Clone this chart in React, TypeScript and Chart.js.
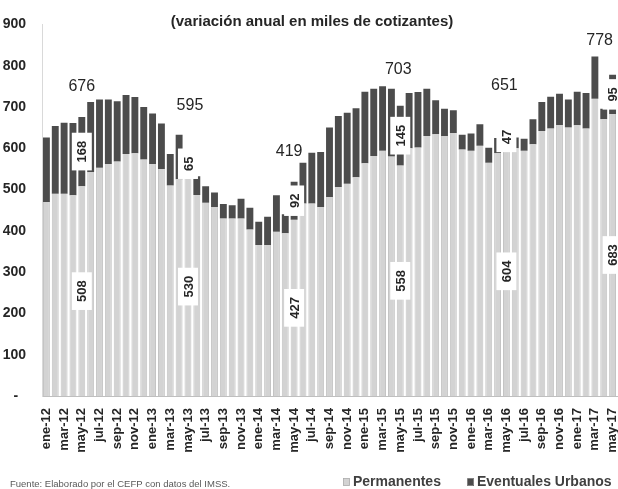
import React, { useEffect, useRef } from 'react';
import { Chart, registerables } from 'chart.js';

Chart.register(...registerables);

const categories: string[] = [
  'ene-12','feb-12','mar-12','abr-12','may-12','jun-12','jul-12','ago-12','sep-12','oct-12','nov-12','dic-12',
  'ene-13','feb-13','mar-13','abr-13','may-13','jun-13','jul-13','ago-13','sep-13','oct-13','nov-13','dic-13',
  'ene-14','feb-14','mar-14','abr-14','may-14','jun-14','jul-14','ago-14','sep-14','oct-14','nov-14','dic-14',
  'ene-15','feb-15','mar-15','abr-15','may-15','jun-15','jul-15','ago-15','sep-15','oct-15','nov-15','dic-15',
  'ene-16','feb-16','mar-16','abr-16','may-16','jun-16','jul-16','ago-16','sep-16','oct-16','nov-16','dic-16',
  'ene-17','feb-17','mar-17','abr-17','may-17',
];

const permanentes: number[] = [
  470, 490, 490, 486, 508, 542, 553, 562, 568, 586, 588, 573,
  562, 550, 510, 525, 530, 487, 468, 457, 430, 430, 430, 403,
  366, 366, 398, 394, 427, 466, 466, 458, 482, 506, 514, 530,
  564, 581, 594, 580, 558, 600, 602, 630, 634, 630, 637, 597,
  594, 606, 565, 588, 604, 600, 594, 610, 642, 648, 656, 650,
  656, 648, 720, 670, 683,
];

const eventuales: number[] = [
  156, 164, 172, 175, 168, 170, 165, 156, 146, 143, 136, 127,
  122, 110, 76, 108, 65, 45, 40, 36, 35, 32, 48, 53,
  56, 68, 88, 46, 92, 99, 123, 133, 168, 172, 172, 167,
  173, 163, 156, 164, 145, 134, 134, 114, 82, 66, 55, 36,
  42, 52, 36, 37, 47, 26, 29, 60, 70, 77, 76, 68,
  81, 86, 102, 26, 95,
];

// Months that carry value labels (May of each year) and their annotated totals
const labelledMonths: string[] = ['may-12', 'may-13', 'may-14', 'may-15', 'may-16', 'may-17'];
const totalLabels: string[] = ['676', '595', '419', '703', '651', '778'];

const yTicks: number[] = [0, 100, 200, 300, 400, 500, 600, 700, 800, 900];

const TITLE = '(variación anual en miles de cotizantes)';
const SOURCE = 'Fuente: Elaborado por el CEFP con datos del IMSS.';
const SERIES_NAMES = ['Permanentes', 'Eventuales Urbanos'];

const FONT = '"Liberation Sans Narrow", "Liberation Sans", Arial, sans-serif';
const LIGHT = '#d3d3d3';
const DARK = '#4c4c4c';

// pixel offsets of the total annotations relative to each labelled bar's top
const totalOffsets: [number, number][] = [[0, -30], [2, -45], [-5, -30], [-2, -36], [-2, -42], [-13, -34]];

function drawBox(ctx: CanvasRenderingContext2D, cx: number, cy: number, text: string) {
  ctx.save();
  ctx.translate(cx, cy);
  ctx.rotate(-Math.PI / 2);
  ctx.font = `bold 13px ${FONT}`;
  const w = ctx.measureText(text).width;
  const padX = 8;
  const h = 20;
  ctx.fillStyle = '#ffffff';
  ctx.fillRect(-w / 2 - padX, -h / 2, w + padX * 2, h);
  ctx.fillStyle = '#262626';
  ctx.textAlign = 'center';
  ctx.textBaseline = 'middle';
  ctx.fillText(text, 0, 1);
  ctx.restore();
}

const annotationPlugin = {
  id: 'annotations',
  afterDatasetsDraw(chart: any) {
    const ctx: CanvasRenderingContext2D = chart.ctx;
    const xs = chart.scales.x;
    const ys = chart.scales.y;
    ctx.save();
    labelledMonths.forEach((m, k) => {
      const idx = categories.indexOf(m);
      const cx = xs.getPixelForValue(idx);
      const p = permanentes[idx];
      const e = eventuales[idx];
      drawBox(ctx, cx, ys.getPixelForValue(p / 2), String(p));
      drawBox(ctx, cx, ys.getPixelForValue(p + e / 2), String(e));
      const [dx, dy] = totalOffsets[k];
      ctx.font = `16px ${FONT}`;
      ctx.fillStyle = '#262626';
      ctx.textAlign = 'center';
      ctx.textBaseline = 'middle';
      ctx.fillText(totalLabels[k], cx + dx, ys.getPixelForValue(p + e) + dy);
    });

    // title
    ctx.font = `bold 15px ${FONT}`;
    ctx.fillStyle = '#262626';
    ctx.textAlign = 'center';
    ctx.textBaseline = 'middle';
    ctx.fillText(TITLE, 312, 22);

    // source
    ctx.font = `9.5px ${FONT}`;
    ctx.fillStyle = '#595959';
    ctx.textAlign = 'left';
    ctx.fillText(SOURCE, 10, 484);

    // legend
    ctx.font = `bold 14px ${FONT}`;
    const items: [string, string, number][] = [[SERIES_NAMES[0], LIGHT, 343], [SERIES_NAMES[1], DARK, 467]];
    items.forEach(([name, color, lx]) => {
      ctx.fillStyle = color;
      ctx.fillRect(lx, 478, 7, 8);
      ctx.strokeStyle = '#a6a6a6';
      ctx.lineWidth = 0.6;
      ctx.strokeRect(lx + 0.5, 478.5, 6, 7);
      ctx.fillStyle = '#404040';
      ctx.textAlign = 'left';
      ctx.fillText(name, lx + 10, 482);
    });
    ctx.restore();
  },
};

export default function App() {
  const canvasRef = useRef<HTMLCanvasElement | null>(null);

  useEffect(() => {
    const canvas = canvasRef.current;
    if (!canvas) return;
    const chart = new Chart(canvas, {
      type: 'bar',
      data: {
        labels: categories,
        datasets: [
          {
            label: SERIES_NAMES[0],
            data: permanentes,
            backgroundColor: LIGHT,
            borderColor: '#c4c4c4',
            borderWidth: { left: 1, right: 1, top: 0, bottom: 0 } as any,
            barPercentage: 0.78,
            categoryPercentage: 1.0,
          },
          {
            label: SERIES_NAMES[1],
            data: eventuales,
            backgroundColor: DARK,
            borderWidth: 0,
            barPercentage: 0.78,
            categoryPercentage: 1.0,
          },
        ],
      },
      options: {
        responsive: false,
        animation: false,
        layout: { padding: { top: 21, right: 1, left: 0, bottom: 0 } },
        plugins: {
          legend: { display: false },
          title: { display: false },
          tooltip: { enabled: false },
        },
        scales: {
          x: {
            stacked: true,
            grid: { display: false, drawTicks: false },
            border: { display: true, color: '#bfbfbf' },
            ticks: {
              autoSkip: false,
              minRotation: 90,
              maxRotation: 90,
              padding: 12,
              color: '#262626',
              font: { family: FONT, size: 13, weight: 'bold' },
              callback: (_v: any, i: number) => (i % 2 === 0 ? categories[i] : ''),
            },
            afterFit: (s: any) => {
              s.height = 489 - 396;
              s.paddingLeft = 0;
              s.paddingRight = 0;
            },
          },
          y: {
            stacked: true,
            min: 0,
            max: 900,
            grid: { display: false, drawTicks: false },
            border: { display: true, color: '#d9d9d9' },
            afterBuildTicks: (s: any) => {
              s.ticks = yTicks.map((v) => ({ value: v }));
            },
            ticks: {
              padding: 16,
              color: '#262626',
              font: { family: FONT, size: 14, weight: 'bold' },
              callback: (v: any) => (Number(v) === 0 ? '-  ' : String(v)),
            },
            afterFit: (s: any) => {
              s.width = 42;
            },
          },
        },
      },
      plugins: [annotationPlugin],
    });
    return () => chart.destroy();
  }, []);

  return (
    <div style={{ position: 'absolute', left: 0, top: 0, width: 618, height: 489, background: '#fff' }}>
      <canvas ref={canvasRef} width={618} height={489} style={{ display: 'block' }} />
    </div>
  );
}
